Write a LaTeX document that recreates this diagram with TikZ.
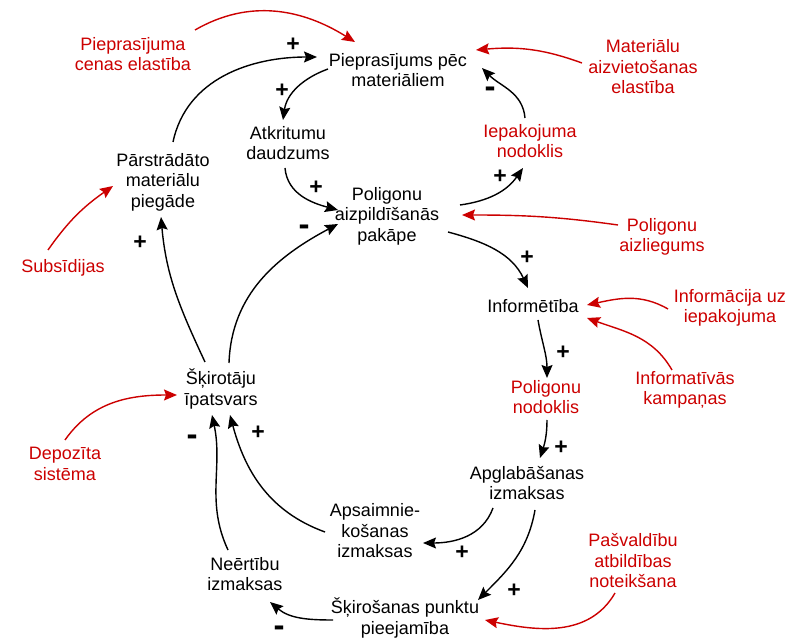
\documentclass[tikz,border=0pt]{standalone}
\usepackage{fontspec}
\setmainfont{Liberation Sans}
\usetikzlibrary{arrows.meta,calc}
\definecolor{cldred}{RGB}{204,0,0}
\begin{document}
\begin{tikzpicture}[x=1pt,y=1pt,
  var/.style={align=center,inner sep=0pt,font=\fontsize{18}{20.5}\selectfont},
  pol/.style={var,text=cldred},
  lnk/.style={line width=1.4pt,-{Stealth[length=13pt,width=11pt,inset=2pt]}},
  plnk/.style={lnk,draw=cldred,-{Stealth[length=13pt,width=11pt,inset=2pt,fill=cldred]}},
  possign/.style={inner sep=0pt,font=\fontsize{23}{23}\selectfont\bfseries},
  negsign/.style={inner sep=0pt,font=\fontsize{33}{33}\selectfont\bfseries}]
\useasboundingbox (0,0) rectangle (788,638);
\fill[white] (0,0) rectangle (788,638);
% variables
\node[var] (pp) at (398,568) {Pieprasījums pēc\\materiāliem};
\node[var] (at) at (288,495) {Atkritumu\\daudzums};
\node[var] (ps) at (163,456) {Pārstrādāto\\materiālu\\piegāde};
\node[var] (pa) at (387,422) {Poligonu\\aizpildīšanās\\pakāpe};
\node[pol] (ip) at (530,497) {Iepakojuma\\nodoklis};
\node[pol] (mae) at (643,571) {Materiālu\\aizvietošanas\\elastība};
\node[pol] (pce) at (133,584) {Pieprasījuma\\cenas elastība};
\node[pol] (paz) at (662,401) {Poligonu\\aizliegums};
\node[var] (inf) at (533,332) {Informētība};
\node[pol] (iui) at (730,330) {Informācija uz\\iepakojuma};
\node[pol] (ik) at (685,248) {Informatīvās\\kampaņas};
\node[pol] (pn) at (546,241) {Poligonu\\nodoklis};
\node[var] (ai) at (527,155) {Apglabāšanas\\izmaksas};
\node[var] (asi) at (375,107) {Apsaimnie-\\košanas\\izmaksas};
\node[pol] (pat) at (633,77) {Pašvaldību\\atbildības\\noteikšana};
\node[var] (spp) at (405,20) {Šķirošanas punktu\\pieejamība};
\node[var] (ni) at (245,64) {Neērtību\\izmaksas};
\node[var] (si) at (221,249) {Šķirotāju\\īpatsvars};
\node[pol] (ds) at (65,174) {Depozīta\\sistēma};
\node[pol] (sub) at (63,370) {Subsīdijas};
% black links
\draw[lnk] ($(ps)+(10,40)$) to[out=78,in=180] ($(pp)+(-81,13)$);
\draw[lnk] ($(pp)+(-70,1)$) to[out=200,in=82] ($(at)+(-5,23)$);
\draw[lnk] ($(at)+(-3,-25)$) to[out=-85,in=165] ($(pa)+(-49,6)$);
\draw[lnk] ($(si)+(8,26)$) to[out=88,in=208] ($(pa)+(-49,-8)$);
\draw[lnk] ($(si)+(-16,27)$) to[out=115,in=-85] ($(ps)+(-2,-35)$);
\draw[lnk] ($(pa)+(73,11)$) to[out=8,in=235] ($(ip)+(-7,-27)$);
\draw[lnk] ($(ip)+(-5,23)$) to[out=95,in=-45] ($(pp)+(84,2)$);
\draw[lnk] ($(pa)+(61,-16)$) to[out=-15,in=115] ($(inf)+(-5,18)$);
\draw[lnk] ($(inf)+(5,-14)$) to[out=-80,in=90] ($(pn)+(1,19)$);
\draw[lnk] ($(pn)+(1,-23)$) to[out=-90,in=72] ($(ai)+(13,25)$);
\draw[lnk] ($(ai)+(-34,-25)$) to[out=-110,in=0] ($(asi)+(48,-12)$);
\draw[lnk] ($(ai)+(8,-27)$) to[out=-100,in=45] ($(spp)+(73,18)$);
\draw[lnk] ($(asi)+(-50,-1)$) to[out=160,in=-75] ($(si)+(9,-26)$);
\draw[lnk] ($(spp)+(-72,-2)$) to[out=180,in=-40] ($(ni)+(25,-28)$);
\draw[lnk] ($(ni)+(-17,24)$) to[out=115,in=-78] ($(si)+(-9,-26)$);
% red links
\draw[plnk] ($(pce)+(62,24)$) to[out=30,in=148] ($(pp)+(-43,28)$);
\draw[plnk] ($(mae)+(-61,4)$) to[out=160,in=5] ($(pp)+(78,20)$);
\draw[plnk] ($(paz)+(-44,12)$) to[out=172,in=0] ($(pa)+(75,1)$);
\draw[plnk] ($(sub)+(-15,18)$) to[out=55,in=215] ($(ps)+(-50,-4)$);
\draw[plnk] ($(iui)+(-62,-1)$) to[out=150,in=12] ($(inf)+(54,1)$);
\draw[plnk] ($(ik)+(-13,20)$) to[out=120,in=-20] ($(inf)+(54,-12)$);
\draw[plnk] ($(ds)+(0,24)$) to[out=55,in=180] ($(si)+(-44,-6)$);
\draw[plnk] ($(pat)+(-18,-32)$) to[out=-120,in=-12] ($(spp)+(80,-2)$);
% polarity signs
\node[possign] (s1) at (293,593) {+};
\node[possign] (s2) at (282,547) {+};
\node[negsign] (s3) at (490,546) {-};
\node[possign] (s4) at (316,450) {+};
\node[negsign] (s5) at (304,408) {-};
\node[possign] (s6) at (500,461) {+};
\node[possign] (s7) at (140,395) {+};
\node[possign] (s8) at (527,380) {+};
\node[possign] (s9) at (563,285) {+};
\node[possign] (s10) at (561,190) {+};
\node[possign] (s11) at (462,85) {+};
\node[possign] (s12) at (514,47) {+};
\node[possign] (s13) at (258,205) {+};
\node[negsign] (s14) at (192,198) {-};
\node[negsign] (s15) at (279,7) {-};
\end{tikzpicture}
\end{document}
